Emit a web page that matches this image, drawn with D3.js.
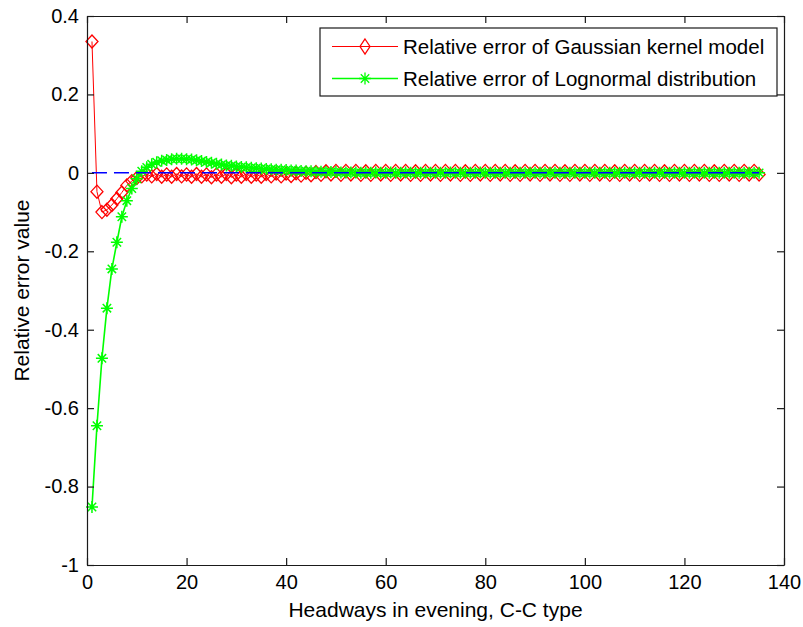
<!DOCTYPE html>
<html>
<head>
<meta charset="utf-8">
<script src="https://cdn.jsdelivr.net/npm/d3@7"></script>
<style>
  html, body { margin: 0; padding: 0; background: #fff; }
  svg { display: block; }
</style>
</head>
<body>
<svg id="chart" width="803" height="627"></svg>
<script>
// headway values (x) shared by both series
const headways = [
  1, 2, 3, 4, 5, 6, 7, 8, 9, 10, 11, 12, 13, 14, 15, 16, 17, 18, 19, 20,
  21, 22, 23, 24, 25, 26, 27, 28, 29, 30, 31, 32, 33, 34, 35, 36, 37, 38, 39, 40,
  41, 42, 43, 44, 45, 46, 47, 48, 49, 50, 51, 52, 53, 54, 55, 56, 57, 58, 59, 60,
  61, 62, 63, 64, 65, 66, 67, 68, 69, 70, 71, 72, 73, 74, 75, 76, 77, 78, 79, 80,
  81, 82, 83, 84, 85, 86, 87, 88, 89, 90, 91, 92, 93, 94, 95, 96, 97, 98, 99, 100,
  101, 102, 103, 104, 105, 106, 107, 108, 109, 110, 111, 112, 113, 114, 115, 116, 117, 118, 119, 120,
  121, 122, 123, 124, 125, 126, 127, 128, 129, 130, 131, 132, 133, 134, 135
];

// relative error of Gaussian kernel model
const gaussErr = [
  0.335, -0.048, -0.100, -0.094, -0.082, -0.066, -0.050, -0.032, -0.021, -0.013,
  -0.009, -0.004, -0.009, -0.003, -0.010, -0.004, -0.010, -0.003, -0.009, -0.004,
  -0.010, -0.003, -0.010, -0.004, -0.011, -0.004, -0.010, -0.003, -0.011, -0.004,
  -0.010, -0.003, -0.010, -0.004, -0.010, -0.003, -0.009, -0.002, -0.009, -0.002,
  -0.008, -0.001, -0.007, 0.000, -0.006, 0.002, -0.005, 0.004, -0.004, 0.005,
  -0.005, 0.005, -0.004, 0.005, -0.005, 0.004, -0.005, 0.005, -0.004, 0.005,
  -0.005, 0.005, -0.004, 0.005, -0.005, 0.004, -0.005, 0.005, -0.004, 0.005,
  -0.005, 0.005, -0.004, 0.005, -0.005, 0.004, -0.005, 0.005, -0.004, 0.005,
  -0.005, 0.005, -0.004, 0.005, -0.005, 0.004, -0.005, 0.005, -0.004, 0.005,
  -0.005, 0.005, -0.004, 0.005, -0.005, 0.004, -0.005, 0.005, -0.004, 0.005,
  -0.005, 0.005, -0.004, 0.005, -0.005, 0.004, -0.005, 0.005, -0.004, 0.005,
  -0.005, 0.005, -0.004, 0.005, -0.005, 0.004, -0.005, 0.005, -0.004, 0.005,
  -0.005, 0.005, -0.004, 0.005, -0.005, 0.004, -0.005, 0.005, -0.004, 0.005,
  -0.005, 0.005, -0.004, 0.005, -0.004
];

// relative error of Lognormal distribution
const lognErr = [
  -0.852, -0.645, -0.473, -0.345, -0.245, -0.177, -0.112, -0.071, -0.040, -0.015,
  0.004, 0.014, 0.022, 0.027, 0.031, 0.033, 0.035, 0.036, 0.036, 0.035,
  0.034, 0.032, 0.030, 0.028, 0.026, 0.023, 0.021, 0.019, 0.018, 0.016,
  0.015, 0.014, 0.013, 0.012, 0.011, 0.010, 0.009, 0.008, 0.008, 0.007,
  0.006, 0.006, 0.005, 0.004, 0.004, 0.003, 0.003, 0.002, 0.002, 0.002,
  0.001, 0.001, 0.001, 0.001, 0.000, 0.001, 0.000, 0.001, 0.000, 0.000,
  0.001, 0.000, 0.000, 0.001, 0.000, 0.000, 0.000, 0.001, 0.000, 0.000,
  0.000, 0.000, 0.001, 0.000, 0.000, 0.000, 0.000, 0.000, 0.001, 0.000,
  0.000, 0.000, 0.000, 0.000, 0.000, 0.000, 0.000, 0.000, 0.000, 0.000,
  0.000, 0.000, 0.000, 0.000, 0.000, 0.000, 0.000, 0.000, 0.000, 0.000,
  0.000, 0.000, 0.000, 0.000, 0.000, 0.000, 0.000, 0.000, 0.000, 0.000,
  0.000, 0.000, 0.000, 0.000, 0.000, 0.000, 0.000, 0.000, 0.000, 0.000,
  0.000, 0.000, 0.000, 0.000, 0.000, 0.000, 0.000, 0.000, 0.000, 0.000,
  0.000, 0.000, 0.000, 0.000, 0.000
];

// zero reference line
const zeroRef = [[1, 0], [135, 0]];

const xTicks = [0, 20, 40, 60, 80, 100, 120, 140];
const yTicks = [-1, -0.8, -0.6, -0.4, -0.2, 0, 0.2, 0.4];
const yTickLabels = ['-1', '-0.8', '-0.6', '-0.4', '-0.2', '0', '0.2', '0.4'];
const legendLabels = ['Relative error of Gaussian kernel model', 'Relative error of Lognormal distribution'];
const xTitle = 'Headways in evening, C-C type';
const yTitle = 'Relative error value';

const svg = d3.select('#chart');
const W = 803, H = 627;
const margin = { top: 16, right: 19, bottom: 62, left: 87 };
const pw = W - margin.left - margin.right;
const ph = H - margin.top - margin.bottom;
const font = '"Liberation Sans", Arial, Helvetica, sans-serif';

svg.append('rect').attr('width', W).attr('height', H).attr('fill', '#fff');

const g = svg.append('g').attr('transform', `translate(${margin.left},${margin.top})`);
const x = d3.scaleLinear().domain([0, 140]).range([0, pw]);
const y = d3.scaleLinear().domain([-1, 0.4]).range([ph, 0]);

const diamond = 'M0,-6.5L6,0L0,6.5L-6,0Z';
const diamondLegend = 'M0,-7.5L5,0L0,7.5L-5,0Z';
const star = 'M-6,0H6M0,-6V6M-4.2,-4.2L4.2,4.2M-4.2,4.2L4.2,-4.2';

const line = d3.line().x(d => x(d[0])).y(d => y(d[1]));
const gaussPts = headways.map((h, i) => [h, gaussErr[i]]);
const lognPts = headways.map((h, i) => [h, lognErr[i]]);

// Gaussian kernel series
g.append('path').datum(gaussPts).attr('d', line)
  .attr('fill', 'none').attr('stroke', '#ff0000').attr('stroke-width', 1);
g.append('g').selectAll('path').data(gaussPts).join('path')
  .attr('transform', d => `translate(${x(d[0])},${y(d[1])})`)
  .attr('d', diamond).attr('fill', 'none').attr('stroke', '#ff0000').attr('stroke-width', 1.3);

// Lognormal series
g.append('path').datum(lognPts).attr('d', line)
  .attr('fill', 'none').attr('stroke', '#00ff00').attr('stroke-width', 1.6);
g.append('g').selectAll('path').data(lognPts).join('path')
  .attr('transform', d => `translate(${x(d[0])},${y(d[1])})`)
  .attr('d', star).attr('fill', 'none').attr('stroke', '#00ff00').attr('stroke-width', 1.5);

// dashed zero line
g.append('path').datum(zeroRef).attr('d', line)
  .attr('fill', 'none').attr('stroke', '#0000ff').attr('stroke-width', 1.5)
  .attr('stroke-dasharray', '15,7');

// axes (MATLAB box with inward ticks on all sides)
const axisColor = '#1a1a1a';
const styleAxis = sel => {
  sel.selectAll('path.domain').attr('stroke', axisColor).attr('stroke-width', 1.2);
  sel.selectAll('.tick line').attr('stroke', axisColor).attr('stroke-width', 1.2);
  sel.selectAll('.tick text').attr('fill', '#000').style('font-family', font).style('font-size', '20px');
};
g.append('g').attr('transform', `translate(0,${ph})`)
  .call(d3.axisBottom(x).tickValues(xTicks).tickSizeInner(-7).tickSizeOuter(0).tickPadding(10).tickFormat(d => String(d)))
  .call(styleAxis);
g.append('g')
  .call(d3.axisTop(x).tickValues(xTicks).tickSizeInner(-7).tickSizeOuter(0).tickFormat(''))
  .call(styleAxis);
g.append('g')
  .call(d3.axisLeft(y).tickValues(yTicks).tickSizeInner(-7).tickSizeOuter(0).tickPadding(8)
    .tickFormat((d, i) => yTickLabels[i]))
  .call(styleAxis);
g.append('g').attr('transform', `translate(${pw},0)`)
  .call(d3.axisRight(y).tickValues(yTicks).tickSizeInner(-7).tickSizeOuter(0).tickFormat(''))
  .call(styleAxis);

// axis titles
svg.append('text').attr('x', margin.left + pw / 2).attr('y', 617)
  .attr('text-anchor', 'middle').style('font-family', font).style('font-size', '21px')
  .text(xTitle);
svg.append('text').attr('transform', `translate(29,${margin.top + ph / 2}) rotate(-90)`)
  .attr('text-anchor', 'middle').style('font-family', font).style('font-size', '21px')
  .text(yTitle);

// legend
const lg = svg.append('g').attr('transform', 'translate(320,28)');
lg.append('rect').attr('width', 457).attr('height', 68)
  .attr('fill', '#fff').attr('stroke', axisColor).attr('stroke-width', 1.2);
const rows = [
  { color: '#ff0000', marker: diamondLegend, width: 1, cy: 18.5 },
  { color: '#00ff00', marker: star, width: 1.6, cy: 50.5 }
];
rows.forEach((r, i) => {
  lg.append('line').attr('x1', 12).attr('x2', 78).attr('y1', r.cy).attr('y2', r.cy)
    .attr('stroke', r.color).attr('stroke-width', r.width);
  lg.append('path').attr('transform', `translate(45,${r.cy})`).attr('d', r.marker)
    .attr('fill', 'none').attr('stroke', r.color).attr('stroke-width', 1.3);
  lg.append('text').attr('x', 83).attr('y', r.cy).attr('dy', '0.36em')
    .style('font-family', font).style('font-size', '20.5px').text(legendLabels[i]);
});
</script>
</body>
</html>
